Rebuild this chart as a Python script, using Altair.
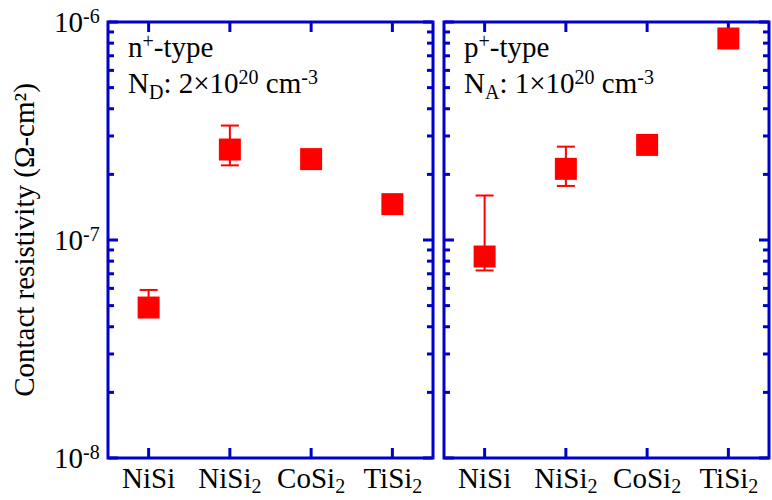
import altair as alt
import pandas as pd

# ---------------- data ----------------
cats = ["NiSi", "NiSi2", "CoSi2", "TiSi2"]
label_base = ["NiSi", "NiSi", "CoSi", "TiSi"]
label_sub = ["", "2", "2", "2"]

n_vals = [4.9e-8, 2.6e-7, 2.35e-7, 1.46e-7]
n_err_hi = [5.9e-8, 3.35e-7, None, None]
n_err_lo = [4.6e-8, 2.2e-7, None, None]

p_vals = [8.4e-8, 2.12e-7, 2.73e-7, 8.4e-7]
p_err_hi = [1.6e-7, 2.68e-7, None, None]
p_err_lo = [7.25e-8, 1.77e-7, None, None]

major_ticks = [1e-8, 1e-7, 1e-6]
major_exps = ["-8", "-7", "-6"]
minor_mult = [2, 3, 4, 5, 6, 7, 8, 9]
decades = [1e-8, 1e-7]

y_title = "Contact resistivity (Ω-cm²)"
annot_n = [[("n", "b", 0), ("+", "s", -9), ("-type", "b", 0)],
           [("N", "b", 0), ("D", "s", 6), (": 2×10", "b", 0), ("20", "s", -9),
            (" cm", "b", 0), ("-3", "s", -9)]]
annot_p = [[("p", "b", 0), ("+", "s", -9), ("-type", "b", 0)],
           [("N", "b", 0), ("A", "s", 6), (": 1×10", "b", 0), ("20", "s", -9),
            (" cm", "b", 0), ("-3", "s", -9)]]

# ---------------- style ----------------
BLUE = "#0000CC"
RED = "#FF0000"
FONT = "Liberation Serif"
W, H = 325, 436
FS, FSS = 29, 20
MAJ, MIN, CAT_T = 10, 6, 10

TIMES = {"n": .5, "+": .564, "-": .333, "t": .278, "y": .5, "p": .5, "e": .444,
         "N": .722, "D": .722, "A": .722, ":": .278, " ": .25, "2": .5, "×": .564,
         "1": .5, "0": .5, "c": .444, "m": .778, "3": .5, "i": .278, "S": .556,
         "C": .667, "o": .5, "T": .611}


def tw(s, size):
    return sum(TIMES.get(ch, .5) for ch in s) * size


minor_vals = [m * d for d in decades for m in minor_mult]

xenc = alt.X("cat:N", scale=alt.Scale(type="point", domain=cats, padding=0.5), axis=None)
yscale = alt.Scale(type="log", domain=[1e-8, 1e-6], nice=False)


def yenc(f):
    return alt.Y(f"{f}:Q", scale=yscale, axis=None)


def panel(vals, hi, lo, annot, left):
    df = pd.DataFrame({"cat": cats, "v": vals})
    err = pd.DataFrame({"cat": cats, "lo": lo, "hi": hi}).dropna()
    cdf = pd.DataFrame({"cat": cats})
    majdf = pd.DataFrame({"v": major_ticks, "e": major_exps})
    mindf = pd.DataFrame({"v": minor_vals})

    layers = []
    # axis ticks (inward)
    layers.append(alt.Chart(cdf).mark_rule(color=BLUE, strokeWidth=3).encode(
        x=xenc, y=alt.value(0), y2=alt.value(CAT_T)))
    layers.append(alt.Chart(cdf).mark_rule(color=BLUE, strokeWidth=3).encode(
        x=xenc, y=alt.value(H), y2=alt.value(H - CAT_T)))
    for d, ln in ((majdf, MAJ), (mindf, MIN)):
        layers.append(alt.Chart(d).mark_rule(color=BLUE, strokeWidth=3).encode(
            y=yenc("v"), x=alt.value(0), x2=alt.value(ln)))
        layers.append(alt.Chart(d).mark_rule(color=BLUE, strokeWidth=3).encode(
            y=yenc("v"), x=alt.value(W), x2=alt.value(W - ln)))

    # error bars
    layers.append(alt.Chart(err).mark_rule(color=RED, strokeWidth=2).encode(
        x=xenc, y=yenc("lo"), y2="hi:Q"))
    for f in ("lo", "hi"):
        layers.append(alt.Chart(err).mark_tick(color=RED, thickness=2, size=18,
                                               orient="horizontal", opacity=1).encode(
            x=xenc, y=yenc(f)))
    # squares
    layers.append(alt.Chart(df).mark_square(size=484, color=RED, opacity=1, filled=True).encode(
        x=xenc, y=yenc("v")))

    # category labels
    for c, b, s in zip(cats, label_base, label_sub):
        bw, sw = tw(b, FS), tw(s, FSS)
        shift = (bw - sw) / 2
        one = pd.DataFrame({"cat": [c]})
        layers.append(alt.Chart(one).mark_text(text=b, font=FONT, fontSize=FS, align="right",
                                               baseline="alphabetic", dx=shift, dy=30,
                                               color="black").encode(x=xenc, y=alt.value(H)))
        if s:
            layers.append(alt.Chart(one).mark_text(text=s, font=FONT, fontSize=FSS, align="left",
                                                   baseline="alphabetic", dx=shift, dy=35,
                                                   color="black").encode(x=xenc, y=alt.value(H)))

    # annotation
    for li, line in enumerate(annot):
        xpos = 20
        ybase = 35 + li * 36
        for txt, kind, dy in line:
            size = FS if kind == "b" else FSS
            lead = len(txt) - len(txt.lstrip())
            draw = txt.lstrip()
            layers.append(alt.Chart(pd.DataFrame({"a": [0]})).mark_text(
                text=draw, font=FONT, fontSize=size, align="left", baseline="alphabetic",
                dy=dy, color="black").encode(
                x=alt.value(xpos + tw(" " * lead, size)), y=alt.value(ybase)))
            xpos += tw(txt, size)

    if left:
        layers.append(alt.Chart(majdf).mark_text(text="10", font=FONT, fontSize=FS, align="right",
                                                 baseline="alphabetic", dy=10, color="black").encode(
            y=yenc("v"), x=alt.value(-25)))
        layers.append(alt.Chart(majdf).mark_text(font=FONT, fontSize=FSS, align="left",
                                                 baseline="alphabetic", dy=1, color="black").encode(
            y=yenc("v"), x=alt.value(-25), text="e:N"))
        layers.append(alt.Chart(pd.DataFrame({"a": [0]})).mark_text(
            text=y_title, font=FONT, fontSize=FS, angle=270, align="center",
            baseline="alphabetic", color="black").encode(
            x=alt.value(-74), y=alt.value(H / 2)))

    return alt.layer(*layers).properties(width=W, height=H)


left_panel = panel(n_vals, n_err_hi, n_err_lo, annot_n, True)
right_panel = panel(p_vals, p_err_hi, p_err_lo, annot_p, False)

chart = alt.hconcat(left_panel, right_panel, spacing=11, bounds="flush").properties(
    padding={"left": 9, "top": 5, "right": 0, "bottom": 0},
    background="white",
).configure_view(stroke=BLUE, strokeWidth=3)

chart.save("out.html", embed_options={"renderer": "svg", "actions": False})
